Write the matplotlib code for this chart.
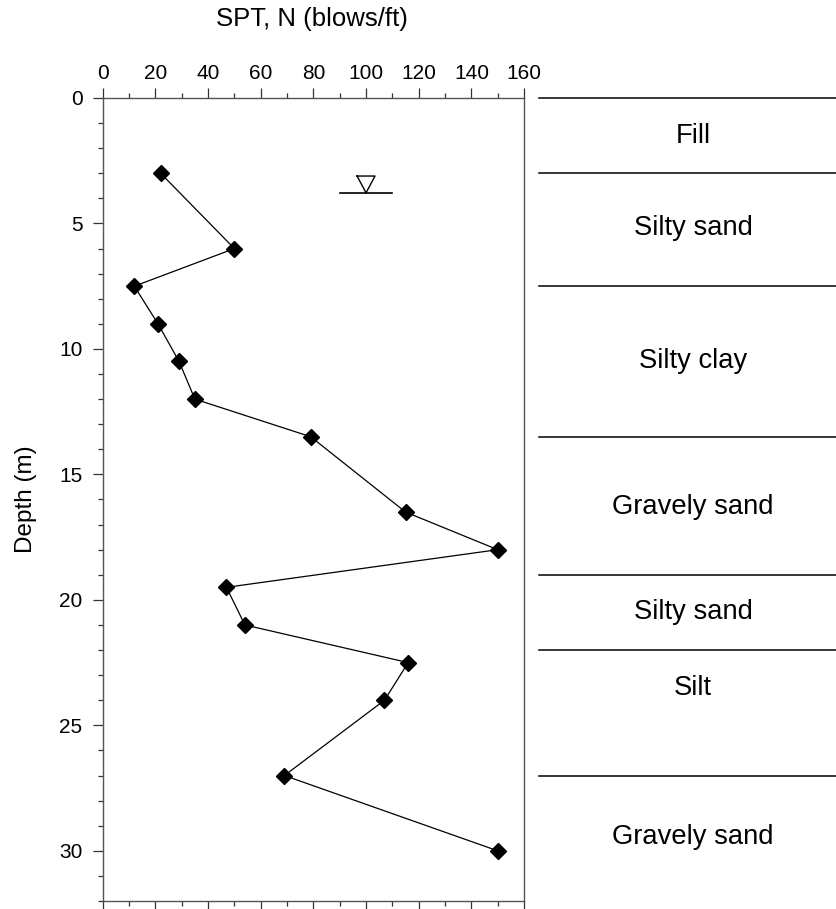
import matplotlib
matplotlib.use("Agg")
import matplotlib.pyplot as plt
from matplotlib.ticker import MultipleLocator

plt.rcParams['font.family'] = ['Liberation Sans', 'DejaVu Sans']

# SPT blow counts vs depth
depth = [3, 6, 7.5, 9, 10.5, 12, 13.5, 16.5, 18, 19.5, 21, 22.5, 24, 27, 30]
spt_n = [22, 50, 12, 21, 29, 35, 79, 115, 150, 47, 54, 116, 107, 69, 150]

# soil profile
layer_tops = [0, 3, 7.5, 13.5, 19, 22, 27]
layer_names = ['Fill', 'Silty sand', 'Silty clay', 'Gravely sand', 'Silty sand', 'Silt', 'Gravely sand']
label_depths = [1.5, 5.2, 10.5, 16.3, 20.5, 23.5, 29.45]

water_depth = 3.78
water_n = 100

fig = plt.figure(figsize=(8.37, 9.09), dpi=100)
ax = fig.add_axes([0.1227, 0.0088, 0.5034, 0.8834])

ax.plot(spt_n, depth, color='black', lw=0.9, marker='D', ms=8.5, mfc='black', mec='black')

# water table symbol
ax.plot([water_n - 10, water_n + 10], [water_depth, water_depth], color='black', lw=1.2)
ax.plot([water_n - 3.4, water_n + 3.4, water_n, water_n - 3.4],
        [water_depth - 0.67, water_depth - 0.67, water_depth, water_depth - 0.67],
        color='black', lw=1.0)

ax.set_xlim(0, 160)
ax.set_ylim(32, 0)
ax.xaxis.set_major_locator(MultipleLocator(20))
ax.xaxis.set_minor_locator(MultipleLocator(10))
ax.yaxis.set_major_locator(MultipleLocator(5))
ax.yaxis.set_minor_locator(MultipleLocator(1))
ax.tick_params(axis='x', which='both', top=True, bottom=True, labeltop=True, labelbottom=False,
               direction='out', labelsize=15)
ax.tick_params(axis='y', which='both', left=True, right=False, direction='out', labelsize=15)
ax.tick_params(which='major', length=7, width=0.9, color='#333333')
ax.tick_params(which='minor', length=3.3, width=0.9, color='#333333')
ax.tick_params(axis='x', which='major', pad=3.5)
ax.tick_params(axis='y', which='major', pad=7.5)
for s in ax.spines.values():
    s.set_linewidth(1.0)
    s.set_color('#555555')

fig.text(26 / 837, ax.transData.transform((0, 16))[1] / fig.bbox.height, 'Depth (m)',
         fontsize=17.5, rotation=90, ha='center', va='center')
fig.text(312 / 837, 1 - 19 / 909, 'SPT, N (blows/ft)', fontsize=18.5, ha='center', va='center')

# layer boundaries and names on the right
lx0, lx1 = 539 / 837, 1.0
for d in layer_tops:
    yf = ax.transData.transform((0, d))[1] / fig.bbox.height
    fig.add_artist(plt.Line2D([lx0, lx1], [yf, yf], color='black', lw=1.1))
for name, d in zip(layer_names, label_depths):
    yf = ax.transData.transform((0, d))[1] / fig.bbox.height
    fig.text(693 / 837, yf, name, fontsize=19.7, ha='center', va='center')

fig.savefig('out.png', dpi=100)
